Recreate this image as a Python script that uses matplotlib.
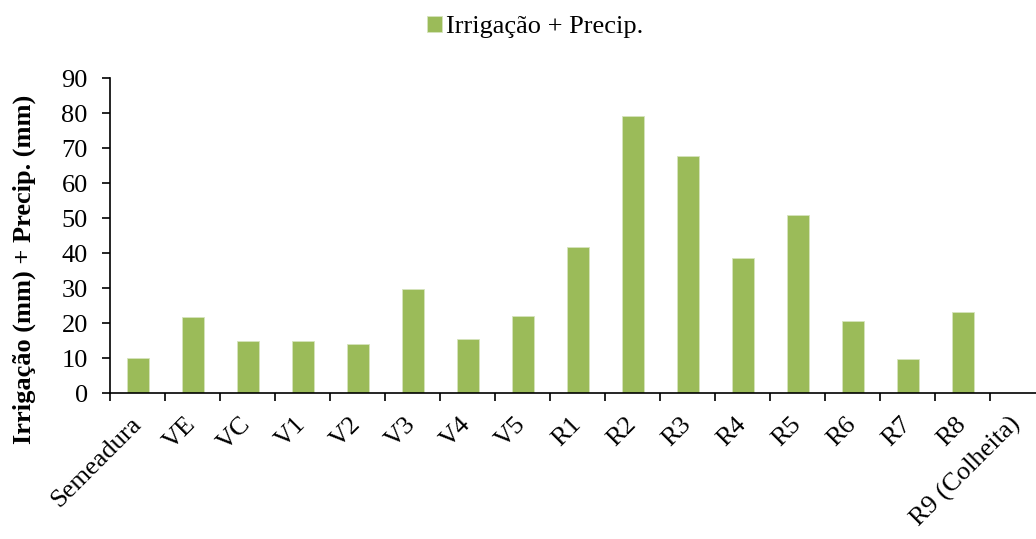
import matplotlib
matplotlib.use("Agg")
import matplotlib.pyplot as plt
import numpy as np

# ── Dados ────────────────────────────────────────────────────────────────────
estadios = ["Semeadura", "VE", "VC", "V1", "V2", "V3", "V4", "V5",
            "R1", "R2", "R3", "R4", "R5", "R6", "R7", "R8", "R9 (Colheita)"]
irrig_precip = [10, 21.8, 14.9, 14.9, 14.1, 29.8, 15.4, 22.1,
                41.9, 79.3, 67.9, 38.8, 50.9, 20.6, 9.9, 23.1, 0]
y_ticks = [0, 10, 20, 30, 40, 50, 60, 70, 80, 90]

COR = "#9BBB59"

plt.rcParams.update({
    "font.family": ["Liberation Serif", "DejaVu Serif"],
    "font.size": 19,
})

fig = plt.figure(figsize=(10.36, 5.39), dpi=100)
ax = fig.add_axes([110 / 1036, 1 - 393.3 / 539, 935 / 1036, 315 / 539])

x = np.arange(len(estadios))
ax.bar(x, irrig_precip, width=0.4, color=COR, edgecolor="#d6e4bd",
       linewidth=0.6, label="Irrigação + Precip.")

ax.set_xlim(-0.5, len(estadios) - 0.5)
ax.set_ylim(0, 90)
ax.set_yticks(y_ticks)

# ticks nas divisas das categorias, rotulos no centro
ax.set_xticks(np.arange(len(estadios) + 1) - 0.5)
ax.set_xticklabels([])
ax.set_xticks(x, minor=True)
ax.set_xticklabels(estadios, minor=True, rotation=45, ha="right",
                   va="center", rotation_mode="anchor")
ax.tick_params(axis="x", which="minor", length=0, pad=20)
ax.tick_params(axis="x", which="major", direction="out", length=6, width=1.2)
ax.tick_params(axis="y", direction="out", length=6, width=1.2, pad=10)

for s in ("top", "right"):
    ax.spines[s].set_visible(False)
for s in ("left", "bottom"):
    ax.spines[s].set_linewidth(1.2)

ax.set_ylabel("Irrigação (mm) + Precip. (mm)", fontweight="bold")
ax.yaxis.set_label_coords(-0.079, 0.395)

fig.legend(loc="center", bbox_to_anchor=(535 / 1036, 1 - 27 / 539),
           frameon=False, handlelength=0.55, handleheight=0.55,
           handletextpad=0.15, fontsize=19)

fig.savefig("out.png", dpi=100)
plt.close(fig)
